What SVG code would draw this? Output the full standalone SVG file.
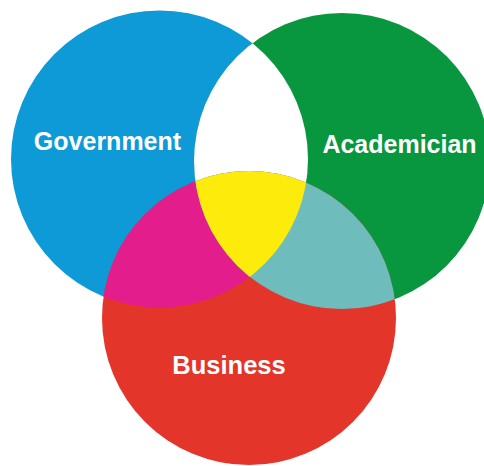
<svg xmlns="http://www.w3.org/2000/svg" width="484" height="466" viewBox="0 0 484 466">
  <defs>
    <clipPath id="clipBlue"><circle cx="159.5" cy="159" r="148.5"/></clipPath>
    <clipPath id="clipGreen"><circle cx="342" cy="161" r="148"/></clipPath>
    <clipPath id="clipRed"><circle cx="249" cy="318" r="147"/></clipPath>
  </defs>
  <style>
    .lbl { font-family: "Liberation Sans", Arial, sans-serif; font-weight: bold; font-size: 25px; fill: #ffffff; text-anchor: middle; }
  </style>
  <rect width="484" height="466" fill="#ffffff"/>
  <g id="government">
    <circle cx="159.5" cy="159" r="148.5" fill="#0d9ad6"/>
  </g>
  <g id="academician">
    <circle cx="342" cy="161" r="148" fill="#08963f"/>
  </g>
  <g id="business">
    <circle cx="249" cy="318" r="147" fill="#e4352b"/>
  </g>
  <g id="overlaps">
    <g clip-path="url(#clipBlue)">
      <circle cx="342" cy="161" r="148" fill="#ffffff"/>
    </g>
    <g clip-path="url(#clipRed)">
      <circle cx="159.5" cy="159" r="148.5" fill="#e31d8c"/>
      <circle cx="342" cy="161" r="148" fill="#6fbcbd"/>
      <g clip-path="url(#clipBlue)">
        <circle cx="342" cy="161" r="148" fill="#fdeb0c"/>
      </g>
    </g>
  </g>
  <g id="labels">
    <text class="lbl" x="107.5" y="150">Government</text>
    <text class="lbl" x="399.5" y="153">Academician</text>
    <text class="lbl" x="229" y="374" style="font-size:25.5px">Business</text>
  </g>
</svg>
